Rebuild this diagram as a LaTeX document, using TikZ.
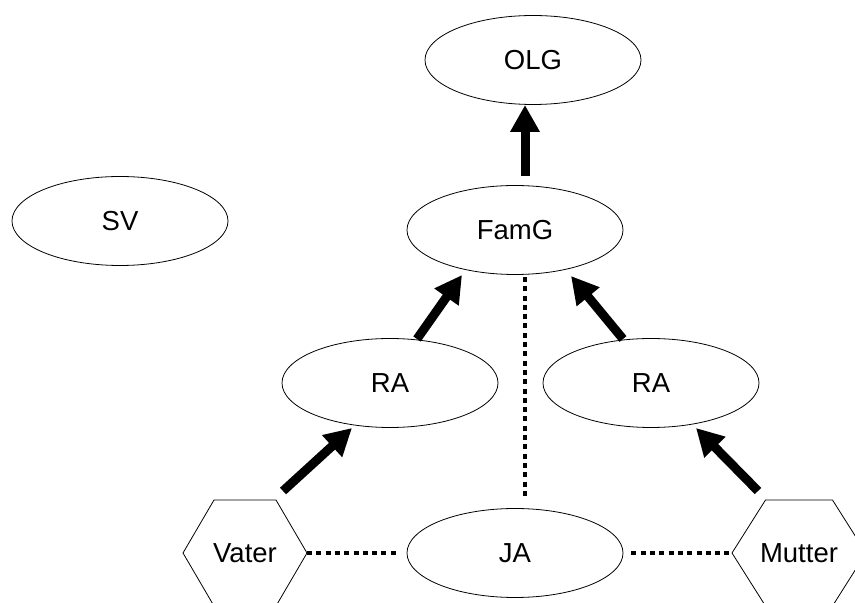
\documentclass[tikz,border=0pt]{standalone}
\usepackage{fontspec}
\setmainfont{Liberation Sans}
\usetikzlibrary{arrows.meta,calc,shapes.geometric}

\begin{document}
\begin{tikzpicture}[x=1pt,y=1pt,
  lbl/.style={font=\fontsize{27.5}{33}\selectfont, inner sep=0pt},
  oval/.style={lbl, draw, line width=0.8pt, ellipse, minimum width=216pt, minimum height=89pt},
  hexline/.style={draw, line width=0.8pt, line join=miter},
  bigarrow/.style={line width=9pt, -{Triangle[length=27pt,width=28pt]}},
  dotline/.style={line width=4pt, dash pattern=on 5pt off 4.3pt}]

\clip (0,0) rectangle (855,603);
\fill[white] (0,0) rectangle (855,603);

% ellipse nodes
\node[oval] (olg)  at (533,543) {OLG};
\node[oval] (sv)   at (120,382) {SV};
\node[oval] (famg) at (515,373) {FamG};
\node[oval] (raL)  at (390,220) {RA};
\node[oval] (raR)  at (651,220) {RA};
\node[oval] (ja)   at (515,50)  {JA};

% hexagon nodes (text plus outline)
\node[lbl] (vater)  at (245,50) {Vater};
\draw[hexline] ($(vater)+(-62,0)$) -- ++(31,53) -- ++(62,0) -- ++(31,-53)
  -- ++(-31,-53) -- ++(-62,0) -- cycle;
\coordinate (vaterE) at ($(vater)+(62,0)$);

\node[lbl] (mutter) at (799,50) {Mutter};
\draw[hexline] ($(mutter)+(-67,0)$) -- ++(33.5,53) -- ++(67,0) -- ++(33.5,-53)
  -- ++(-33.5,-53) -- ++(-67,0) -- cycle;
\coordinate (mutterW) at ($(mutter)+(-67,0)$);

% thick arrows
\draw[bigarrow] ($(famg)+(10,54)$)   -- ($(olg)+(-8,-45)$);
\draw[bigarrow] ($(raL)+(27,44)$)    -- ($(famg)+(-53,-45)$);
\draw[bigarrow] ($(raR)+(-28,44)$)   -- ($(famg)+(56,-46)$);
\draw[bigarrow] ($(vater)+(38,62)$)  -- ($(raL)+(-38,-45)$);
\draw[bigarrow] ($(mutter)+(-41,62)$) -- ($(raR)+(45,-45)$);

% dotted links
\draw[dotline] ($(famg)+(10,-47)$) -- ($(ja)+(10,53)$);
\draw[dotline] (vaterE) -- ($(ja.west)+(-8,0)$);
\draw[dotline] ($(ja.east)+(8,0)$) -- (mutterW);

\end{tikzpicture}
\end{document}
